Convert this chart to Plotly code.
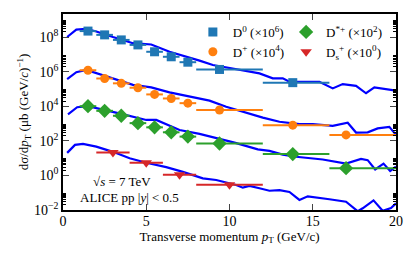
import plotly.graph_objects as go

# ---------------- data (values already scaled as plotted) ----------------
# D0 (x1e6)
d0_pt = [1.5, 2.5, 3.5, 4.5, 5.5, 6.5, 7.5, 9.4, 13.8]
d0_lo = [1, 2, 3, 4, 5, 6, 7, 8, 12]
d0_hi = [2, 3, 4, 5, 6, 7, 8, 12, 16]
d0_y = [2.2e8, 1.33e8, 6.8e7, 3.5e7, 1.4e7, 7.2e6, 3.5e6, 1.33e6, 2.3e5]

# D+ (x1e4)
dp_pt = [1.5, 2.5, 3.5, 4.5, 5.5, 6.5, 7.5, 9.4, 13.8, 17.0]
dp_lo = [1, 2, 3, 4, 5, 6, 7, 8, 12, 16]
dp_hi = [2, 3, 4, 5, 6, 7, 8, 12, 16, 24]
dp_y = [1.2e6, 4.0e5, 2.1e5, 1.17e5, 4.8e4, 2.8e4, 1.5e4, 6.0e3, 8.0e2, 2.2e2]

# D*+ (x1e2)
ds_pt = [1.5, 2.5, 3.5, 4.5, 5.5, 6.5, 7.5, 9.4, 13.8, 17.0]
ds_lo = [1, 2, 3, 4, 5, 6, 7, 8, 12, 16]
ds_hi = [2, 3, 4, 5, 6, 7, 8, 12, 16, 24]
ds_y = [1.0e4, 5.4e3, 2.8e3, 1.05e3, 6.0e2, 3.1e2, 1.75e2, 7.0e1, 1.7e1, 2.6e0]

# Ds+ (x1e0)
dss_pt = [3.0, 5.0, 7.0, 10.0]
dss_lo = [2, 4, 6, 8]
dss_hi = [4, 6, 8, 12]
dss_y = [2.1e1, 5.3e0, 1.1e0, 2.9e-1]

# theory curves
th_d0_x = [0.25, 0.8, 1.4, 2.0, 3.0, 4.2, 5.3, 6.4, 8.2, 9.0, 11.8, 12.6, 13.2, 13.6, 15.4, 16.2, 16.8, 17.6, 18.2, 18.7, 20.0]
th_d0_y = [1.0e8, 2.7e8, 3.0e8, 2.1e8, 1.0e8, 4.4e7, 3.7e7, 1.4e7, 4.3e6, 2.4e6, 7.9e5, 4.1e5, 4.1e5, 2.6e5, 2.6e5, 1.07e5, 1.9e5, 1.5e5, 5.6e4, 1.23e5, 7.9e4]

th_dp_x = [0.25, 0.8, 1.4, 2.0, 3.0, 4.2, 5.3, 6.4, 8.8, 9.8, 12.0, 13.0, 14.2, 15.0, 16.2, 17.1, 17.6, 18.3, 18.9, 19.6, 20.0]
th_dp_y = [3.7e5, 9.3e5, 1.25e6, 8.3e5, 4.1e5, 1.7e5, 1.23e5, 6.3e4, 2.1e4, 9.3e3, 2.2e3, 1.26e3, 9.3e2, 9.3e2, 7.4e2, 1.1e3, 3.0e2, 3.1e2, 5.2e2, 6.4e2, 2.2e2]

th_ds_x = [0.3, 0.85, 1.5, 2.6, 3.5, 5.0, 5.6, 7.0, 8.2, 10.3, 11.7, 12.4, 13.2, 14.0, 15.6, 17.0, 17.9, 18.3, 18.75, 19.25, 19.65, 20.0]
th_ds_y = [3.4e3, 8.7e3, 1.0e4, 6.0e3, 3.6e3, 1.6e3, 1.6e3, 4.2e2, 2.5e2, 7.9e1, 3.2e1, 2.6e1, 1.6e1, 1.2e1, 8.3e0, 4.8e0, 8.9e0, 7.6e0, 2.2e0, 4.8e0, 1.8e0, 3.2e0]

th_dss_x = [0.25, 0.72, 1.2, 2.0, 3.0, 4.0, 5.0, 6.2, 7.2, 8.4, 9.2, 10.4, 10.8, 11.2, 11.8, 12.4, 13.0, 13.6, 14.2, 14.7, 16.0, 17.0, 17.7, 18.0, 18.65, 19.2, 19.7, 20.0]
th_dss_y = [2.0e1, 5.8e1, 6.6e1, 4.6e1, 2.3e1, 9.8e0, 5.4e0, 3.0e0, 1.6e0, 6.8e-1, 5.4e-1, 2.8e-1, 1.95e-1, 2.45e-1, 1.8e-1, 1.3e-1, 1.4e-1, 1.1e-1, 3.8e-2, 6.2e-2, 4.2e-2, 3.0e-2, 8.5e-3, 1.25e-2, 3.6e-2, 9.0e-3, 1.3e-2, 2.4e-2]

names = ["D<sup>0</sup> (×10<sup>6</sup>)", "D<sup>+</sup> (×10<sup>4</sup>)",
         "D<sup>*+</sup> (×10<sup>2</sup>)", "D<sub>s</sub><sup>+</sup> (×10<sup>0</sup>)"]

y_tickvals = [1e-2, 1e0, 1e2, 1e4, 1e6, 1e8]
y_ticktext = ["10<sup>−2</sup>", "10<sup>0</sup>", "10<sup>2</sup>", "10<sup>4</sup>", "10<sup>6</sup>", "10<sup>8</sup>"]
x_tickvals = [0, 5, 10, 15, 20]

# ---------------- figure ----------------
FONT = "Liberation Serif"
fig = go.Figure()

for tx, ty in [(th_d0_x, th_d0_y), (th_dp_x, th_dp_y), (th_ds_x, th_ds_y), (th_dss_x, th_dss_y)]:
    fig.add_trace(go.Scatter(x=tx, y=ty, mode="lines", line=dict(color="#0000ff", width=2.2),
                             showlegend=False, hoverinfo="skip"))

series = [
    (d0_pt, d0_lo, d0_hi, d0_y, "#1f77b4", "square", 9, names[0], "legend"),
    (dp_pt, dp_lo, dp_hi, dp_y, "#ff7f0e", "circle", 9, names[1], "legend"),
    (ds_pt, ds_lo, ds_hi, ds_y, "#2ca02c", "diamond", 11, names[2], "legend2"),
    (dss_pt, dss_lo, dss_hi, dss_y, "#d62728", "triangle-down", 10, names[3], "legend2"),
]
for pt, lo, hi, yv, col, sym, sz, nm, lg in series:
    fig.add_trace(go.Scatter(
        x=pt, y=yv, mode="markers", name=nm, legend=lg,
        marker=dict(symbol=sym, size=sz, color=col, line=dict(width=0)),
        error_x=dict(type="data", symmetric=False,
                     array=[h - p for h, p in zip(hi, pt)],
                     arrayminus=[p - l for p, l in zip(pt, lo)],
                     color=col, thickness=2, width=0),
    ))

minor_vals = [m * 10.0 ** e for e in range(-2, 9, 2) for m in range(2, 10)]

fig.update_layout(
    width=416, height=257,
    margin=dict(l=63, r=20, t=14, b=47, autoexpand=False),
    paper_bgcolor="white", plot_bgcolor="white",
    font=dict(family=FONT, size=13, color="black"),
    showlegend=True,
    legend=dict(x=0.39, y=0.985, xanchor="left", yanchor="top", bgcolor="rgba(0,0,0,0)",
                font=dict(family=FONT, size=13), tracegroupgap=0, itemwidth=30),
    legend2=dict(x=0.67, y=0.985, xanchor="left", yanchor="top", bgcolor="rgba(0,0,0,0)",
                 font=dict(family=FONT, size=13), tracegroupgap=0, itemwidth=30),
    xaxis=dict(range=[0, 20], tickmode="array", tickvals=x_tickvals, ticks="inside",
               ticklen=6, tickwidth=1, showline=True, linecolor="black", linewidth=1.5,
               mirror="allticks", showgrid=False, zeroline=False, automargin=False,
               tickfont=dict(family=FONT, size=14), ticklabelstandoff=-3,
               title=dict(text="Transverse momentum <i>p</i><sub>T</sub> (GeV/c)",
                          font=dict(family=FONT, size=13), standoff=0)),
    yaxis=dict(type="log", range=[-2, 9.33], tickmode="array", tickvals=y_tickvals,
               ticktext=y_ticktext, ticks="inside", ticklen=6, tickwidth=1,
               showline=True, linecolor="black", linewidth=1.5, mirror="allticks",
               showgrid=False, zeroline=False, automargin=False,
               tickfont=dict(family=FONT, size=14),
               minor=dict(tickmode="array", tickvals=minor_vals, ticks="inside", ticklen=3,
                          tickwidth=1, tickcolor="black", showgrid=False),
               title=dict(text="dσ/d<i>p</i><sub>T</sub> (μb (GeV/<i>c</i>)<sup>−1</sup>)",
                          font=dict(family=FONT, size=13), standoff=2)),
    annotations=[
        dict(text="√<i>s</i> = 7 TeV", xref="paper", yref="paper", x=0.178, y=0.143,
             xanchor="center", yanchor="middle",
             showarrow=False, font=dict(family=FONT, size=13)),
        dict(text="ALICE pp |<i>y</i>| < 0.5", xref="paper", yref="paper", x=0.2, y=0.066,
             xanchor="center", yanchor="middle",
             showarrow=False, font=dict(family=FONT, size=13)),
    ],
)

fig.write_html("out.html", config={"displayModeBar": False},
               post_script="document.body.style.margin='0px';")
